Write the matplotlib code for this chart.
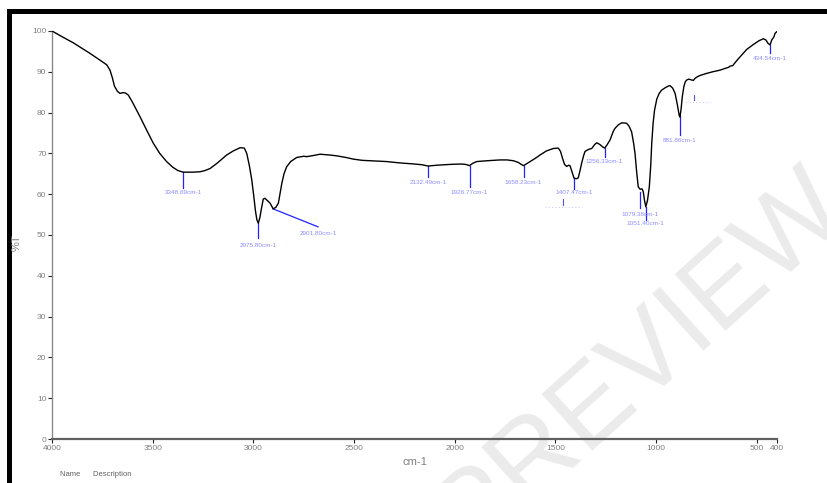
import numpy as np
import matplotlib
matplotlib.use("Agg")
import matplotlib.pyplot as plt
from matplotlib.patches import Rectangle

plt.rcParams['font.family'] = ['Liberation Sans', 'DejaVu Sans']

# FTIR spectrum, wavenumber (cm-1) vs transmittance (%T)
wavenumber = [4000, 3950, 3894, 3811, 3760, 3728, 3712, 3700, 3690, 3675, 3662, 3648, 3635, 3621,
              3600, 3563, 3530, 3497, 3465, 3431, 3400, 3375, 3348.69, 3300, 3265, 3240, 3215,
              3180, 3133, 3100, 3066, 3045, 3033, 3020, 3008, 2998, 2990, 2983, 2975.8, 2968,
              2960, 2951, 2943, 2934, 2917, 2901.8, 2888, 2876, 2868, 2859, 2848, 2835, 2815,
              2785, 2750, 2735, 2700, 2669, 2620, 2586, 2540, 2504, 2460, 2421, 2380, 2338,
              2300, 2256, 2200, 2160, 2132.49, 2090, 2024, 1970, 1945, 1926.77, 1910, 1891,
              1840, 1775, 1740, 1709, 1685, 1670, 1658.23, 1645, 1626, 1600, 1577, 1545, 1511,
              1486, 1475, 1465, 1455, 1444, 1435, 1428, 1418, 1407.47, 1395, 1387, 1378, 1370,
              1360, 1353, 1335, 1320, 1305, 1295, 1280, 1266, 1256.33, 1245, 1229, 1213, 1205,
              1188, 1171, 1147, 1135, 1122, 1112, 1105, 1097, 1089, 1079.38, 1070, 1064, 1058,
              1051.4, 1043, 1034, 1027, 1022, 1015, 1008, 997, 985, 973, 955, 940, 931, 918,
              906, 895, 886, 881.86, 876, 870, 862, 855, 848, 838, 824, 815, 807, 795, 782,
              750, 720, 683, 660, 640, 633, 620, 609, 590, 570, 550, 520, 490, 468, 455, 445,
              434.54, 426, 415, 410, 402]
transmittance = [100.0, 98.6, 97.1, 94.5, 92.8, 91.7, 90.4, 88.5, 86.5, 85.2, 84.7, 84.9, 84.8, 84.3,
                 82.5, 79.0, 75.7, 72.5, 70.0, 68.0, 66.6, 65.8, 65.4, 65.4, 65.5, 65.8, 66.3,
                 67.6, 69.6, 70.6, 71.4, 71.3, 70.0, 67.0, 63.5, 59.5, 56.0, 53.8, 52.9, 54.2,
                 56.5, 58.8, 59.0, 58.6, 57.8, 56.4, 56.8, 57.8, 60.0, 62.6, 65.0, 66.7, 68.0,
                 69.0, 69.3, 69.2, 69.5, 69.8, 69.6, 69.4, 69.0, 68.6, 68.3, 68.2, 68.1, 68.0,
                 67.8, 67.6, 67.4, 67.2, 66.9, 67.1, 67.3, 67.4, 67.3, 67.0, 67.6, 68.0,
                 68.2, 68.4, 68.4, 68.2, 67.8, 67.3, 67.0, 67.4, 68.0, 68.8, 69.6, 70.6, 71.2,
                 71.3, 70.5, 68.8, 67.3, 66.8, 67.1, 67.0, 65.5, 63.9, 63.8, 64.0, 65.8, 67.6,
                 69.5, 70.5, 71.0, 71.2, 72.2, 72.6, 72.2, 71.6, 71.3, 72.0, 73.3, 75.4, 76.1,
                 77.0, 77.5, 77.4, 76.7, 75.3, 72.5, 70.0, 65.5, 61.8, 61.2, 61.3, 60.6, 58.5,
                 56.9, 58.5, 61.8, 67.0, 72.5, 77.5, 80.6, 83.3, 84.7, 85.5, 86.1, 86.5, 86.6, 86.0,
                 84.7, 82.0, 79.4, 78.9, 81.0, 84.0, 86.5, 87.6, 88.0, 88.2, 88.0, 87.9, 88.4, 88.8, 89.1,
                 89.6, 90.0, 90.4, 90.8, 91.1, 91.4, 91.5, 92.2, 93.3, 94.4, 95.5, 96.6, 97.6, 98.1, 97.8, 97.0,
                 96.6, 97.8, 98.6, 99.4, 99.8]

# picked peaks: position, tick top, tick bottom, label
peak_wn = [3348.69, 2975.80, 2901.80, 2132.49, 1926.77, 1658.23, 1407.47, 1256.33, 1079.38, 1051.40, 881.86, 434.54]
peak_top = [65.4, 52.9, 56.4, 66.9, 67.0, 67.0, 63.9, 71.3, 60.6, 56.9, 78.9, 96.6]
tick_x = [3348.69, 2975.80, 2679, 2132.49, 1926.77, 1658.23, 1407.47, 1256.33, 1079.38, 1051.40, 881.86, 434.54]
tick_end = [61.5, 49.3, 52.0, 64.3, 61.8, 64.3, 61.3, 69.0, 56.5, 53.7, 74.5, 94.5]
label_x = [3348.69, 2975.80, 2677, 2132.49, 1926.77, 1658.23, 1407.47, 1256.33, 1079.38, 1051.40, 881.86, 434.54]
label_y = [60.3, 47.4, 50.4, 62.9, 60.5, 62.8, 60.5, 68.0, 55.1, 52.7, 73.1, 93.3]

xticks = [4000, 3500, 3000, 2500, 2000, 1500, 1000, 500, 400]
yticks = list(range(0, 101, 10))

fig = plt.figure(figsize=(8.27, 4.83), dpi=100)
ax = fig.add_axes([52 / 827, 44 / 483, 725 / 827, 408 / 483])

# faint watermark behind the axes
fig.text(0.775, 0.255, "PREVIEW", rotation=42, fontsize=80, color='#ebebeb',
         ha='center', va='center', zorder=-1)
ax.set_facecolor('none')

ax.plot(wavenumber, transmittance, color='black', lw=1.0, zorder=3)

for wx, top, tx, bot, lx, ly in zip(peak_wn, peak_top, tick_x, tick_end, label_x, label_y):
    ax.plot([wx, tx], [top, bot], color='#2222ff', lw=0.9, zorder=2)
    ax.text(lx, ly, f"{wx:.2f}cm-1", color='#8c8cff', fontsize=4.6,
            ha='center', va='center')

# leftover label stubs
for sx, sy0, sy1, dx0, dx1, dy in [(1461, 58.8, 57.4, 1552, 1368, 56.9),
                                    (812, 84.3, 83.1, 852, 733, 82.7)]:
    ax.plot([sx, sx], [sy0, sy1], color='#5050ff', lw=0.8)
    ax.plot([dx0, dx1], [dy, dy], color='#b0b0ff', lw=0.6, ls=(0, (1, 3)))

ax.set_xlim(4000, 400)
ax.set_ylim(0, 100)
ax.set_xticks(xticks)
ax.set_yticks(yticks)
ax.tick_params(axis='both', labelsize=6, labelcolor='#808080', color='#222222',
               length=3, width=0.8, pad=1)
for s in ['top', 'right']:
    ax.spines[s].set_visible(False)
ax.spines['left'].set_color('#8a8a8a')
ax.spines['left'].set_linewidth(1.0)
ax.spines['bottom'].set_color('#606060')
ax.spines['bottom'].set_linewidth(1.6)

ax.set_xlabel("cm-1", fontsize=8, color='#808080', labelpad=4)
fig.text(17 / 827, 0.497, "%T", rotation=90, fontsize=8, color='#808080',
         ha='center', va='center')
fig.text(60 / 827, 1 - 475 / 483, "Name      Description", fontsize=5.5, color='#606060',
         ha='left', va='center')

# black frame along top and left edges
fig.add_artist(Rectangle((7 / 827, 1 - 14 / 483), 1, 5 / 483, transform=fig.transFigure,
                         color='black', lw=0))
fig.add_artist(Rectangle((7 / 827, 0), 5 / 827, 1 - 9 / 483, transform=fig.transFigure,
                         color='black', lw=0))

fig.savefig("out.png", dpi=100)
